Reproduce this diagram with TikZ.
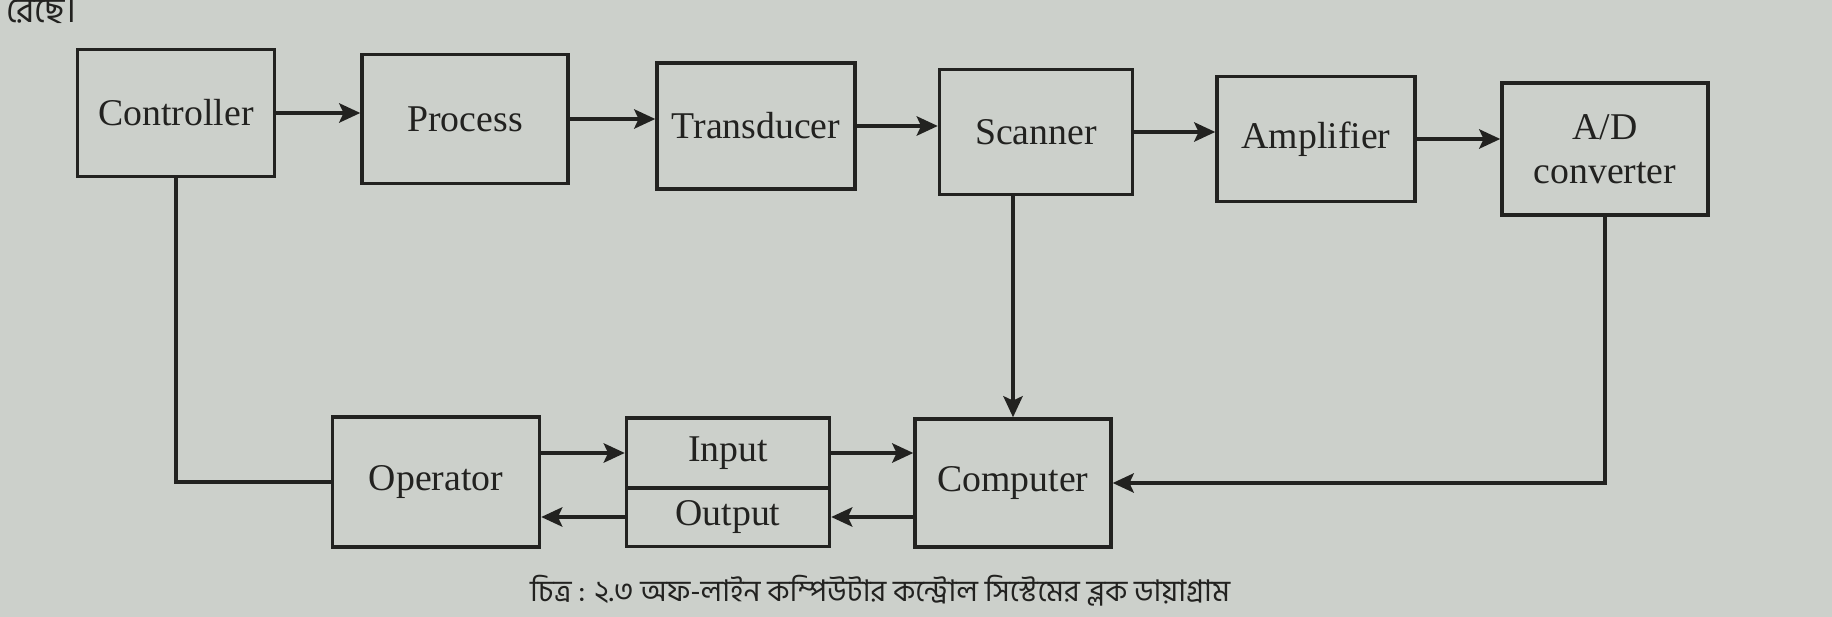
\documentclass[tikz,border=0pt]{standalone}
\usepackage{fontspec}
\setmainfont{Liberation Serif}
\newfontfamily\bengfont[Script=Bengali]{Hind Siliguri}
\usetikzlibrary{arrows.meta}
\definecolor{paper}{RGB}{204,208,203}
\definecolor{ink}{RGB}{34,34,32}

\begin{document}
\begin{tikzpicture}[x=0.02cm,y=-0.02cm,
    every node/.style={font=\fontsize{21.5}{25}\selectfont,text=ink},
    block/.style={draw=ink,line width=2pt,inner sep=2pt,align=center},
    link/.style={draw=ink,line width=2pt},
    flow/.style={link,-{Stealth[length=12pt,width=11pt,inset=2.5pt]}}]
    % Page background
    \fill[paper] (0,0) rectangle (1832,617);
    \useasboundingbox (0,0) rectangle (1832,617);

    % Top row
    \node[block,minimum width=3.94cm,minimum height=2.54cm] (ctrl) at (176,113) {Controller};
    \node[block,minimum width=4.12cm,minimum height=2.58cm] (proc) at (465,119) {Process};
    \node[block,minimum width=3.96cm,minimum height=2.52cm] (trans) at (756,126) {Transducer};
    \node[block,minimum width=3.86cm,minimum height=2.50cm] (scan) at (1036,132) {Scanner};
    \node[block,minimum width=3.96cm,minimum height=2.50cm] (amp) at (1316,139) {Amplifier};
    \node[block,minimum width=4.12cm,minimum height=2.64cm] (adc) at (1605,149) {A/D\\converter};

    % Bottom row
    \node[block,minimum width=4.14cm,minimum height=2.60cm] (oper) at (436,482) {Operator};
    \node[block,minimum width=4.06cm,minimum height=1.40cm] (inp) at (728,453) {Input};
    \node[block,minimum width=4.06cm,minimum height=1.18cm] (outp) at (728,517) {Output};
    \node[block,minimum width=3.92cm,minimum height=2.56cm] (comp) at (1013,483) {Computer};

    % Signal chain
    \draw[flow] (ctrl.east) -- (ctrl.east -| proc.west);
    \draw[flow] (proc.east) -- (proc.east -| trans.west);
    \draw[flow] (trans.east) -- (trans.east -| scan.west);
    \draw[flow] (scan.east) -- (scan.east -| amp.west);
    \draw[flow] (amp.east) -- (amp.east -| adc.west);

    % Feedback to the computer
    \draw[flow] (scan.south -| comp.north) -- (comp.north);
    \draw[flow] (adc.south) |- (comp.east);

    % Operator side
    \draw[link] (ctrl.south) |- (oper.west);
    \draw[flow] (oper.east |- inp.west) -- (inp.west);
    \draw[flow] (outp.west) -- (outp.west -| oper.east);
    \draw[flow] (inp.east) -- (inp.east -| comp.west);
    \draw[flow] (comp.west |- outp.east) -- (outp.east);

    % Page text
    \node[anchor=west,font=\bengfont\fontsize{20}{22}\selectfont] (frag) at (0,12) {রেছে।};
    \node[font=\bengfont\fontsize{17}{20}\selectfont] (cap) at (880,591) {চিত্র : ২.৩ অফ-লাইন কম্পিউটার কন্ট্রোল সিস্টেমের ব্লক ডায়াগ্রাম};
\end{tikzpicture}
\end{document}
